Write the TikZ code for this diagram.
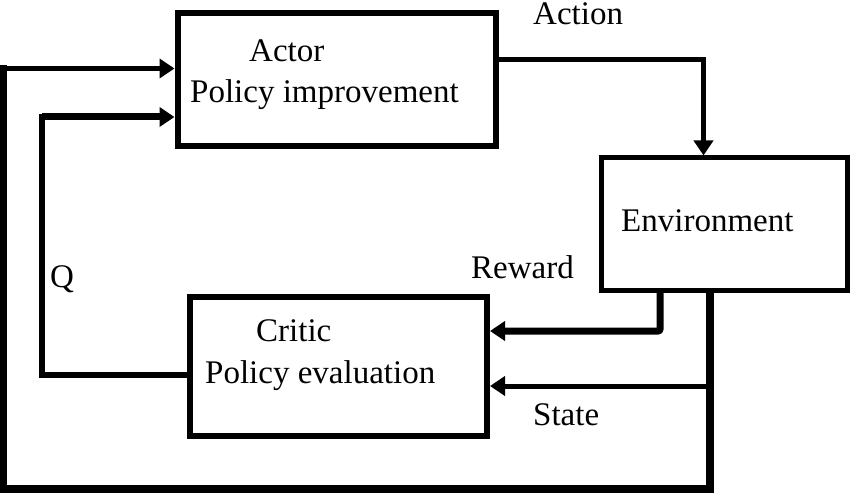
\documentclass[tikz,border=0pt]{standalone}
\usepackage{fontspec}
\setmainfont{Liberation Serif}
\usetikzlibrary{arrows.meta}
\tikzset{
  box/.style={draw, line width=6pt, inner sep=0pt, rectangle},
  lbl/.style={anchor=base west, inner sep=0pt, font=\fontsize{33}{40}\selectfont},
  conn/.style={line width=#1, line join=miter},
  conn/.default=5pt,
  tip/.style={-{Triangle[length=15pt,width=19pt]}},
}
\begin{document}
\begin{tikzpicture}[x=1pt,y=-1pt]
\useasboundingbox (0,0) rectangle (850,494);
% boxes
\node[box, minimum width=318pt, minimum height=133pt] (actor) at (336.5,79.5) {};
\node[box, line width=5pt, minimum width=246pt, minimum height=132pt] (env) at (724,224) {};
\node[box, minimum width=297.5pt, minimum height=139pt] (critic) at (338.25,366) {};
% texts
\node[lbl] (tactor) at (249,62) {Actor};
\node[lbl] (tpi) at (190,103) {Policy improvement};
\node[lbl] (tenv) at (621,232) {Environment};
\node[lbl] (tcritic) at (256,341) {Critic};
\node[lbl] (tpe) at (205,383) {Policy evaluation};
\node[lbl] (taction) at (533,25) {Action};
\node[lbl] (treward) at (471,278) {Reward};
\node[lbl] (tstate) at (533,425) {State};
\node[lbl] (tq) at (50,287) {Q};
% bend points
\coordinate (ca) at (703.5,59.5);
\coordinate (cr) at (660,331);
\coordinate (cs) at (710,386);
\coordinate (cb1) at (710,489);
\coordinate (cb2) at (3.5,489);
\coordinate (cb3) at (3.5,68.5);
\coordinate (cq1) at (42,375);
\coordinate (cq2) at (42,117);
% action
\draw[conn=4.5pt, tip] (actor.east |- ca) -- (ca) -- (env.north -| ca);
% reward
\draw[conn=7pt, tip, rounded corners=2pt] (env.south -| cr) -- (cr) -- (critic.east |- cr);
% state to critic
\draw[conn=5pt, tip] (cs) -- (critic.east |- cs);
% state loop to actor
\draw[conn=7.5pt, line cap=rect] (env.south -| cb1) -- (cb1) -- (cb2) -- (cb3);
\draw[conn=4.5pt, tip] (cb3) -- (actor.west |- cb3);
% Q
\draw[conn=6pt, line cap=rect] (critic.west |- cq1) -- (cq1) -- (cq2);
\draw[conn=7pt, tip] (cq2) -- (actor.west |- cq2);
\end{tikzpicture}
\end{document}
